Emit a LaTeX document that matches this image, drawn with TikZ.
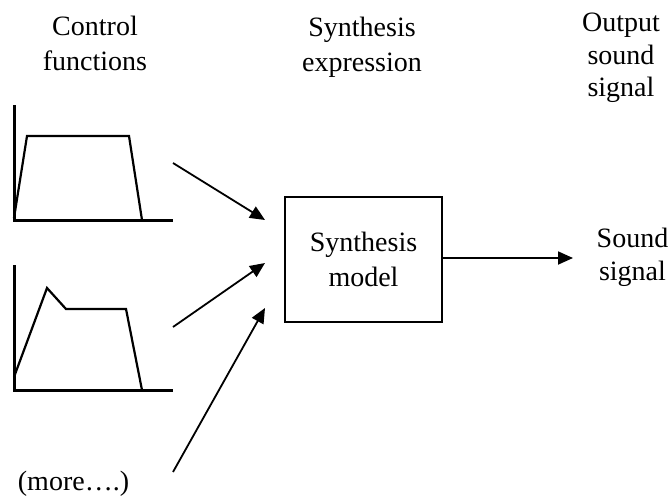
\documentclass[tikz,border=0pt]{standalone}
\usepackage{fontspec}
\setmainfont{Liberation Serif}
\usetikzlibrary{arrows.meta}

\tikzset{
  lbl/.style={align=center, inner sep=0pt, font=\fontsize{28}{35}\selectfont},
  lbltight/.style={align=center, inner sep=0pt, font=\fontsize{28}{32.5}\selectfont},
  blockbox/.style={draw, line width=2pt, minimum width=157pt, minimum height=125pt,
    inner sep=0pt, align=center, font=\fontsize{28}{35}\selectfont},
  axis/.style={line width=3pt},
  envelope/.style={line width=2.2pt, line join=miter},
  flow/.style={line width=1.8pt, -{Triangle[length=15pt,width=13pt]}}
}

\begin{document}
\begin{tikzpicture}[x=1pt,y=-1pt]
  \useasboundingbox (0,0) rectangle (672,496);

  % column headings
  \node[lbl, anchor=north] (hctrl) at (95,16) {Control\\functions};
  \node[lbl, anchor=north] (hsyn) at (362,17) {Synthesis\\expression};
  \node[lbltight, anchor=north] (hout) at (621,13) {Output\\sound\\signal};

  % first control function: trapezoid envelope
  \coordinate (a1top) at (14,105);
  \coordinate (a1o) at (14,220);
  \coordinate (a1end) at (173,220);
  \draw[axis] (a1top) -- (a1o) -- (a1end);
  \draw[envelope] (14,218) -- (27,136) -- (129,136) -- (142,220);

  % second control function: attack-decay-sustain-release envelope
  \coordinate (a2top) at (14,265);
  \coordinate (a2o) at (14,390);
  \coordinate (a2end) at (173,390);
  \draw[axis] (a2top) -- (a2o) -- (a2end);
  \draw[envelope] (14,377) -- (47,288) -- (66,309) -- (126,309) -- (142,390);

  % further inputs
  \node[lbl, anchor=base] (more) at (73.5,490) {(more….)};

  % synthesis block
  \node[blockbox] (model) at (363.5,259.5) {Synthesis\\model};

  % output label
  \node[lbl, anchor=north, font=\fontsize{28}{33}\selectfont] (sound) at (632.5,228) {Sound\\signal};

  % input arrows
  \coordinate (i1s) at (173,163);
  \coordinate (i1e) at (265,220);
  \coordinate (i2s) at (173,327);
  \coordinate (i2e) at (265,263);
  \coordinate (i3s) at (173,472);
  \coordinate (i3e) at (265,308);
  \draw[flow] (i1s) -- (i1e);
  \draw[flow] (i2s) -- (i2e);
  \draw[flow] (i3s) -- (i3e);

  % output arrow
  \coordinate (oe) at (573,258);
  \draw[flow] (model.east |- oe) -- (oe);
\end{tikzpicture}
\end{document}
